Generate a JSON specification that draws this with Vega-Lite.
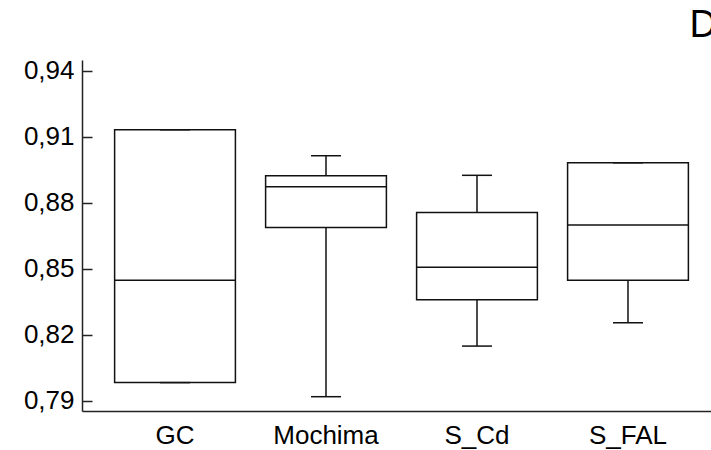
{
  "$schema": "https://vega.github.io/schema/vega-lite/v6.json",
  "autosize": "none",
  "padding": {"left": 82, "top": 60, "right": 0, "bottom": 39},
  "width": 639,
  "height": 351,
  "title": {
    "text": "D",
    "anchor": "end",
    "font": "Liberation Sans",
    "fontSize": 38,
    "fontWeight": "normal",
    "color": "#000000",
    "offset": 13,
    "dx": -4
  },
  "data": {
    "values": [
      {"site": "GC", "min": 0.7982, "q1": 0.7982, "median": 0.8447, "q3": 0.9131, "max": 0.9131},
      {"site": "Mochima", "min": 0.7918, "q1": 0.8687, "median": 0.8872, "q3": 0.8922, "max": 0.9013},
      {"site": "S_Cd", "min": 0.8148, "q1": 0.8358, "median": 0.8506, "q3": 0.8755, "max": 0.8924},
      {"site": "S_FAL", "min": 0.8254, "q1": 0.8447, "median": 0.8698, "q3": 0.8981, "max": 0.8981}
    ]
  },
  "encoding": {
    "x": {
      "field": "site",
      "type": "nominal",
      "sort": null,
      "scale": {"paddingInner": 0, "paddingOuter": 0.116},
      "axis": {
        "title": null,
        "ticks": false,
        "labelAngle": 0,
        "labelFontSize": 26,
        "labelPadding": 11
      }
    }
  },
  "layer": [
    {
      "mark": {"type": "rule", "color": "#111111", "strokeWidth": 1.5},
      "encoding": {
        "y": {
          "field": "min",
          "type": "quantitative",
          "scale": {"domain": [0.7853, 0.9448], "nice": false, "zero": false},
          "axis": {
            "title": null,
            "values": [0.79, 0.82, 0.85, 0.88, 0.91, 0.94],
            "labelExpr": "replace(format(datum.value, '.2f'), '.', ',')",
            "grid": false,
            "tickSize": -10,
            "labelPadding": 18,
            "labelFontSize": 26
          }
        },
        "y2": {"field": "max"}
      }
    },
    {
      "mark": {"type": "bar", "fill": "#ffffff", "stroke": "#111111", "strokeWidth": 1.5, "width": {"band": 0.8}},
      "encoding": {
        "y": {"field": "q1", "type": "quantitative"},
        "y2": {"field": "q3"}
      }
    },
    {
      "mark": {"type": "tick", "orient": "horizontal", "color": "#111111", "size": 121, "thickness": 1.5},
      "encoding": {
        "y": {"field": "median", "type": "quantitative"}
      }
    },
    {
      "mark": {"type": "tick", "orient": "horizontal", "color": "#111111", "size": 30, "thickness": 1.5},
      "encoding": {
        "y": {"field": "min", "type": "quantitative"}
      }
    },
    {
      "mark": {"type": "tick", "orient": "horizontal", "color": "#111111", "size": 30, "thickness": 1.5},
      "encoding": {
        "y": {"field": "max", "type": "quantitative"}
      }
    }
  ],
  "config": {
    "view": {"stroke": null},
    "axis": {
      "labelFont": "Liberation Sans",
      "labelColor": "#000000",
      "domainColor": "#222222",
      "domainWidth": 1.5,
      "tickColor": "#222222",
      "tickWidth": 1.5
    },
    "tick": {"opacity": 1},
    "bar": {"opacity": 1}
  }
}
